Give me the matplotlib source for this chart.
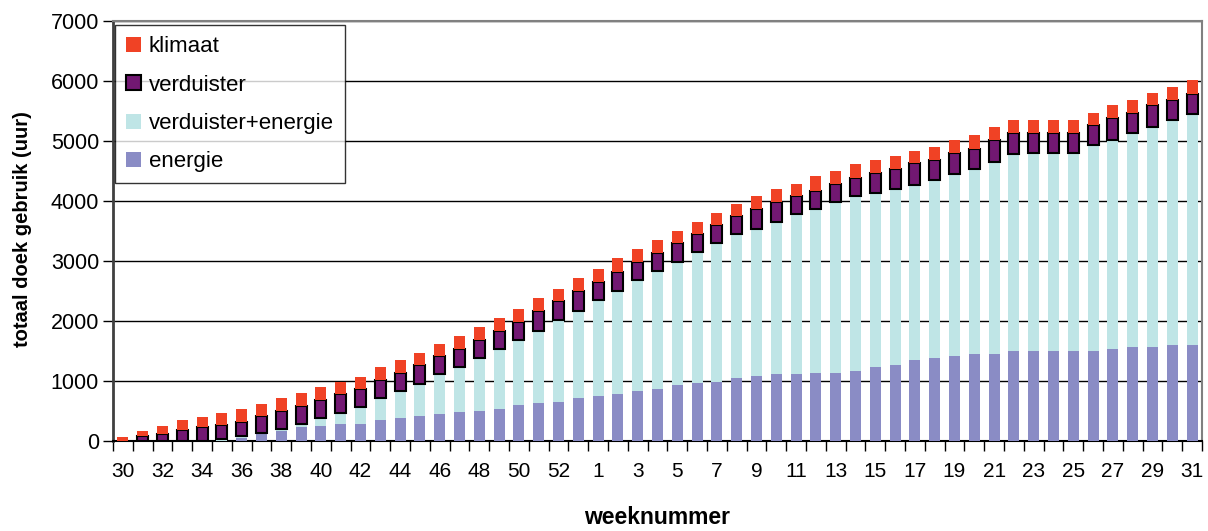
import matplotlib
matplotlib.use("Agg")
import matplotlib.pyplot as plt
import numpy as np

plt.rcParams['font.family'] = ['Liberation Sans', 'DejaVu Sans']

# weeknummers (week 30 t/m 53, daarna 1 t/m 31)
weeks = [30, 31, 32, 33, 34, 35, 36, 37, 38, 39, 40, 41, 42, 43, 44, 45, 46, 47,
         48, 49, 50, 51, 52, 53, 1, 2, 3, 4, 5, 6, 7, 8, 9, 10, 11, 12, 13, 14,
         15, 16, 17, 18, 19, 20, 21, 22, 23, 24, 25, 26, 27, 28, 29, 30, 31]

# cumulatief doekgebruik (uur) per categorie
energie = [0, 0, 0, 0, 0, 0, 56, 115, 172, 228, 258, 289, 289, 344, 380, 411,
           444, 478, 506, 539, 600, 628, 656, 717, 750, 778, 839, 867, 930, 961,
           989, 1050, 1078, 1111, 1111, 1139, 1139, 1172, 1228, 1261, 1350, 1383,
           1411, 1444, 1444, 1506, 1506, 1506, 1506, 1506, 1533, 1567, 1567,
           1594, 1594]
verd_energie = [0, 0, 0, 0, 0, 30, 22, 24, 22, 55, 120, 178, 272, 370, 450, 545,
                667, 755, 877, 994, 1083, 1205, 1361, 1450, 1606, 1728, 1850,
                1972, 2059, 2183, 2305, 2394, 2455, 2545, 2667, 2728, 2850, 2906,
                2911, 2939, 2911, 2967, 3033, 3089, 3212, 3272, 3300, 3300, 3300,
                3422, 3484, 3572, 3666, 3756, 3850]
verduister = [0, 83, 122, 178, 233, 231, 244, 272, 309, 308, 308, 311, 306, 308,
              309, 305, 306, 306, 306, 306, 306, 339, 311, 339, 300, 305, 300,
              300, 303, 306, 300, 300, 334, 333, 300, 305, 300, 305, 333, 333,
              367, 333, 362, 334, 361, 361, 333, 333, 333, 333, 366, 333, 361,
              333, 334]
klimaat = [72, 84, 134, 172, 173, 211, 214, 211, 214, 212, 208, 211, 208, 208,
           211, 211, 205, 205, 205, 211, 211, 206, 205, 211, 211, 239, 211, 211,
           214, 206, 212, 212, 216, 211, 211, 239, 211, 239, 211, 211, 211, 211,
           211, 239, 211, 211, 211, 211, 211, 206, 211, 211, 206, 211, 239]

fig = plt.figure(figsize=(12.08, 5.31), dpi=100)
ax = fig.add_axes([113/1208, 1 - 441/531, (1202-113)/1208, (441-21)/531])

x = np.arange(len(weeks))
w = 0.55
b1 = np.array(energie)
b2 = b1 + np.array(verd_energie)
b3 = b2 + np.array(verduister)

ax.bar(x, energie, w, color='#8a8cc5', label='energie', zorder=3)
ax.bar(x, verd_energie, w, bottom=b1, color='#bfe5e6', label='verduister+energie', zorder=3)
ax.bar(x, verduister, w, bottom=b2, color='#721872', edgecolor='black',
       linewidth=1.5, label='verduister', zorder=3)
ax.bar(x, klimaat, w, bottom=b3, color='#f04225', label='klimaat', zorder=3)

ax.set_xlim(-0.5, len(weeks) - 0.5)
ax.set_ylim(0, 7000)
ax.set_yticks(range(0, 7001, 1000))
ax.yaxis.grid(True, color='black', linewidth=1, zorder=0)
ax.set_axisbelow(True)

ax.set_xticks(x[::2])
ax.set_xticklabels([str(v) for v in weeks[::2]])
ax.set_xticks(np.arange(-0.5, len(weeks), 1), minor=True)
ax.tick_params(axis='x', which='major', length=0, pad=15, labelsize=15)
ax.tick_params(axis='x', which='minor', length=7, width=1, direction='out')
ax.tick_params(axis='y', length=7, width=1, direction='out', labelsize=15.5, pad=3)

for s in ['top', 'right']:
    ax.spines[s].set_color('#808080')
    ax.spines[s].set_linewidth(1.5)
ax.spines['left'].set_color('#404040')
ax.spines['left'].set_linewidth(2)
ax.spines['bottom'].set_linewidth(1.5)

ax.set_xlabel('weeknummer', fontsize=16.5, fontweight='bold')
ax.xaxis.set_label_coords((657 - 113) / 1089, -(517 - 441) / 420)
ax.xaxis.label.set_va('center')
ax.set_ylabel('totaal doek gebruik (uur)', fontsize=14.5, fontweight='bold')
ax.yaxis.set_label_coords(-(113 - 22) / 1089, (441 - 229) / 420)
ax.yaxis.label.set_va('center')

h, l = ax.get_legend_handles_labels()
leg = ax.legend(h[::-1], l[::-1], loc='upper left', bbox_to_anchor=(0.002, 0.99),
                borderaxespad=0, fontsize=16, frameon=True, fancybox=False,
                edgecolor='black', handlelength=0.65, handleheight=0.65,
                handletextpad=0.35, labelspacing=0.78, borderpad=0.5)
leg.get_frame().set_linewidth(1)

plt.savefig('out.png', dpi=100)
